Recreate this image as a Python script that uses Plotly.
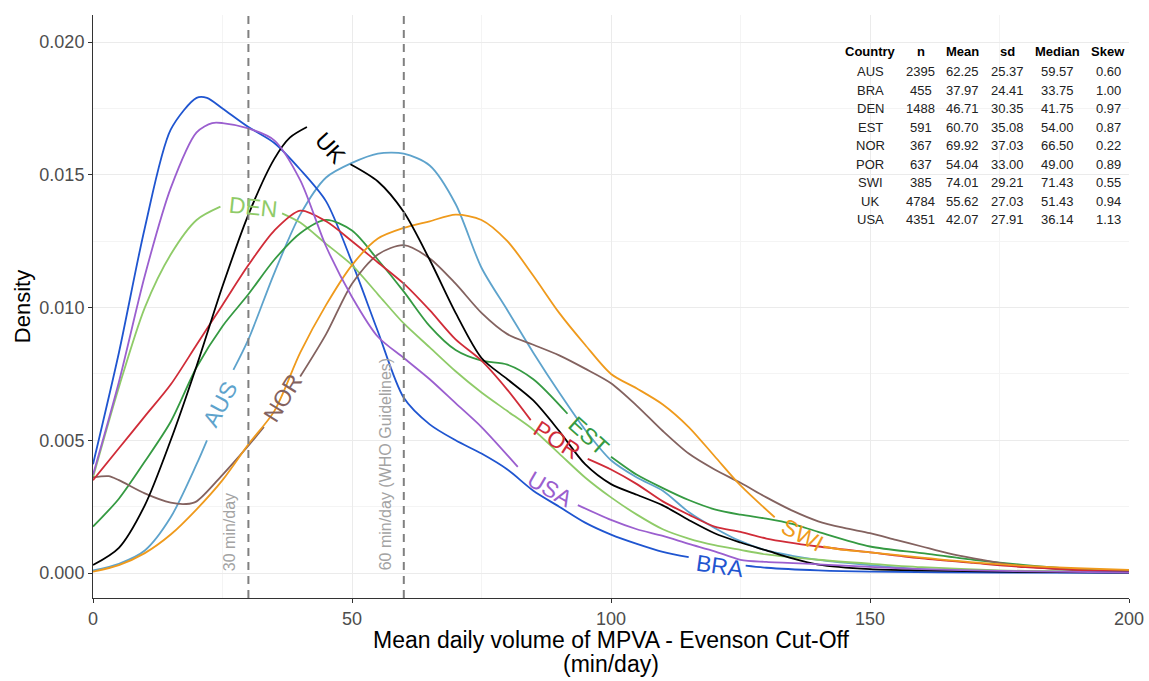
import plotly.graph_objects as go

# Kernel density estimates of MPVA (min/day) per country; density values x 1e-3
AUS_x = [0, 5, 10, 15, 20, 22, 27.1, 30, 35, 40, 45, 50, 55, 60, 65, 70, 75, 80, 85, 90, 95,
         100, 105, 110, 115, 120, 125, 130, 135, 140, 150, 160, 175, 200]
AUS_y = [0.1, 0.35, 0.85, 2.1, 4.1, 5.0, 7.65, 8.8, 11.3, 13.5, 14.9, 15.45, 15.8, 15.8, 15.35,
         13.9, 11.5, 9.9, 8.3, 6.8, 5.4, 4.25, 3.6, 3.1, 2.3, 1.7, 1.2, 0.85, 0.65, 0.5, 0.3,
         0.15, 0.08, 0.02]

BRA_x = [0, 5, 10, 15, 20, 22, 25, 30, 35, 40, 45, 50, 55, 60, 65, 70, 75, 80, 85, 90, 95,
         100, 105, 110, 115, 126, 130, 140, 150, 175, 200]
BRA_y = [4.1, 8.3, 13.0, 16.7, 17.9, 17.9, 17.5, 16.8, 16.2, 15.2, 14.0, 11.7, 9.1, 6.6, 5.6,
         5.0, 4.5, 3.9, 3.1, 2.5, 1.9, 1.45, 1.1, 0.8, 0.6, 0.28, 0.2, 0.1, 0.05, 0.02, 0.01]

DEN_x = [0, 5, 10, 15, 20, 24.6, 36.5, 40, 45, 50, 55, 60, 65, 70, 75, 80, 85, 90, 95, 100,
         105, 110, 115, 120, 125, 130, 140, 150, 160, 175, 200]
DEN_y = [3.6, 7.0, 10.0, 12.0, 13.3, 13.8, 13.55, 13.2, 12.4, 11.6, 10.5, 9.4, 8.5, 7.6, 6.8,
         6.1, 5.4, 4.5, 3.6, 2.85, 2.2, 1.65, 1.3, 1.05, 0.87, 0.7, 0.5, 0.35, 0.22, 0.1, 0.03]

EST_x = [0, 5, 10, 15, 20, 25, 30, 35, 40, 45, 50, 55, 60, 65, 70, 75, 80, 85, 91.6, 100, 105,
         110, 115, 120, 125, 130, 135, 140, 150, 160, 170, 180, 190, 200]
EST_y = [1.75, 2.8, 4.2, 5.7, 7.75, 9.3, 10.5, 11.8, 12.8, 13.3, 12.9, 11.8, 10.6, 9.3, 8.4,
         8.0, 7.85, 7.3, 6.0, 4.38, 3.7, 3.2, 2.75, 2.4, 2.2, 2.05, 1.85, 1.55, 1.0, 0.75, 0.5,
         0.3, 0.15, 0.07]

NOR_x = [0, 3, 5, 10, 15, 18, 20, 25, 30, 33, 40, 45, 50, 55, 60, 65, 70, 75, 80, 85, 90, 95,
         100, 105, 110, 115, 120, 125, 130, 135, 140, 145, 150, 155, 160, 165, 170, 175, 180,
         190, 200]
NOR_y = [3.6, 3.65, 3.5, 3.0, 2.65, 2.6, 2.7, 3.7, 4.8, 5.5, 7.4, 9.0, 10.9, 12.0, 12.35, 11.85,
         10.9, 9.8, 9.0, 8.6, 8.2, 7.7, 7.15, 6.3, 5.35, 4.5, 3.9, 3.4, 2.85, 2.35, 1.95, 1.7,
         1.5, 1.25, 1.0, 0.75, 0.55, 0.38, 0.25, 0.1, 0.05]

POR_x = [0, 5, 10, 15, 20, 25, 30, 35, 40, 45, 50, 55, 60, 65, 70, 75, 80, 84.5, 95.5, 100,
         105, 110, 115, 120, 125, 130, 140, 150, 160, 170, 180, 190, 200]
POR_y = [3.5, 4.7, 5.9, 7.1, 8.6, 10.1, 11.6, 12.9, 13.65, 13.25, 12.5, 11.7, 10.9, 9.9, 8.8,
         8.0, 6.9, 5.76, 4.3, 3.9, 3.35, 2.7, 2.2, 1.75, 1.55, 1.3, 1.0, 0.78, 0.55, 0.38,
         0.22, 0.12, 0.06]

SWI_x = [0, 5, 10, 15, 20, 25, 30, 35, 40, 45, 50, 55, 60, 65, 70, 75, 80, 85, 90, 95, 100,
         105, 110, 115, 120, 125, 131.6, 141, 145, 150, 160, 170, 180, 190, 200]
SWI_y = [0.05, 0.3, 0.75, 1.45, 2.4, 3.5, 4.85, 6.1, 8.3, 10.1, 11.6, 12.6, 13.0, 13.25, 13.5,
         13.3, 12.5, 11.2, 9.8, 8.6, 7.5, 6.95, 6.35, 5.5, 4.4, 3.3, 2.1, 1.0, 0.87, 0.78, 0.58,
         0.4, 0.27, 0.18, 0.12]

UK_x = [0, 5, 10, 15, 20, 25, 30, 35, 38, 41.3, 49.7, 55, 60, 65, 70, 75, 80, 85, 90, 95, 100,
        105, 110, 115, 120, 125, 130, 135, 140, 150, 160, 175, 200]
UK_y = [0.3, 0.95, 2.55, 5.0, 7.8, 10.8, 13.5, 15.6, 16.4, 16.8, 15.4, 14.75, 13.6, 11.8, 9.8,
        8.1, 7.3, 6.5, 5.35, 4.1, 3.35, 2.95, 2.55, 2.0, 1.5, 1.15, 0.85, 0.55, 0.32, 0.15,
        0.1, 0.05, 0.02]

USA_x = [0, 5, 10, 15, 20, 23, 25, 30, 35, 40, 45, 50, 55, 60, 65, 70, 75, 82, 93.6, 100, 105,
         110, 115, 120, 125, 130, 140, 150, 160, 170, 185, 200]
USA_y = [3.7, 7.2, 11.2, 14.5, 16.6, 16.95, 16.95, 16.75, 16.3, 14.8, 12.3, 10.4, 8.9, 8.1, 7.3,
         6.4, 5.5, 4.0, 2.56, 2.0, 1.65, 1.4, 1.1, 0.82, 0.5, 0.42, 0.33, 0.23, 0.15, 0.1, 0.05,
         0.02]

# Summary statistics table
table_header = ["Country", "n", "Mean", "sd", "Median", "Skew"]
table_country = ["AUS", "BRA", "DEN", "EST", "NOR", "POR", "SWI", "UK", "USA"]
table_n = [2395, 455, 1488, 591, 367, 637, 385, 4784, 4351]
table_mean = [62.25, 37.97, 46.71, 60.70, 69.92, 54.04, 74.01, 55.62, 42.07]
table_sd = [25.37, 24.41, 30.35, 35.08, 37.03, 33.00, 29.21, 27.03, 27.91]
table_median = [59.57, 33.75, 41.75, 54.00, 66.50, 49.00, 71.43, 51.43, 36.14]
table_skew = [0.60, 1.00, 0.97, 0.87, 0.22, 0.89, 0.55, 0.94, 1.13]

# Guideline reference lines (min/day)
guide_x = [30, 60]
guide_text = ["30 min/day", "60 min/day (WHO Guidelines)"]

SCALE = 1e-3
FONT = "Liberation Sans, Arial, sans-serif"

series = {
    "AUS": (AUS_x, AUS_y), "BRA": (BRA_x, BRA_y), "DEN": (DEN_x, DEN_y),
    "EST": (EST_x, EST_y), "NOR": (NOR_x, NOR_y), "POR": (POR_x, POR_y),
    "SWI": (SWI_x, SWI_y), "UK": (UK_x, UK_y), "USA": (USA_x, USA_y),
}
colors = {
    "AUS": "#5ea3cc", "BRA": "#1f55d0", "DEN": "#8fcb68", "EST": "#359a42",
    "NOR": "#83625f", "POR": "#d02c38", "SWI": "#ef9a1c", "UK": "#000000",
    "USA": "#9b5fcf",
}
# in-line label placement: gap along curve, label centre, rotation
labels = {
    "AUS": (22, 27.1, 24.6, 6.35, -62),
    "BRA": (115, 126, 121.0, 0.26, 8),
    "DEN": (24.6, 36.5, 31.0, 13.8, 6),
    "EST": (91.6, 100, 95.7, 5.15, 42),
    "NOR": (33, 40, 36.6, 6.6, -58),
    "POR": (84.5, 95.5, 89.6, 5.0, 33),
    "SWI": (131.6, 141, 137.0, 1.45, 28),
    "UK": (41.3, 49.7, 45.8, 16.0, 48),
    "USA": (82, 93.6, 88.2, 3.15, 30),
}

fig = go.Figure()

for name, (xs, ys) in series.items():
    lo, hi = labels[name][0], labels[name][1]
    px, py = [], []
    prev = None
    for xv, yv in zip(xs, ys):
        if lo < xv < hi:
            continue
        if prev is not None and prev <= lo and xv >= hi:
            px.append(None)
            py.append(None)
        px.append(xv)
        py.append(yv * SCALE)
        prev = xv
    fig.add_trace(go.Scatter(
        x=px, y=py, mode="lines", name=name, connectgaps=False,
        line=dict(color=colors[name], width=1.8, shape="spline", smoothing=0.8),
        showlegend=False, hoverinfo="skip",
    ))

annotations = []
for name, (lo, hi, lx, ly, ang) in labels.items():
    annotations.append(dict(
        x=lx, y=ly * SCALE, xref="x", yref="y", text=name, showarrow=False,
        textangle=ang, xanchor="center", yanchor="middle",
        font=dict(family=FONT, size=23, color=colors[name]),
    ))

shapes = []
for gx in guide_x:
    shapes.append(dict(
        type="line", xref="x", yref="paper", x0=gx, x1=gx, y0=0, y1=1,
        line=dict(color="#808080", width=2, dash="8px,6px"), layer="above",
    ))
# rotated guideline captions, centred on their text extent
for gx, gt, cy in zip(guide_x, guide_text, [1.53, 4.1]):
    annotations.append(dict(
        x=gx - 3.6, y=cy * SCALE, xref="x", yref="y", text=gt, showarrow=False,
        textangle=-90, xanchor="center", yanchor="middle",
        font=dict(family=FONT, size=16, color="#a3a3a3"),
    ))

# summary table, columns centred
col_x = [150.0, 159.8, 167.8, 176.5, 186.1, 196.0]
header_y = 19.66
row_step = 0.697
for cx, h in zip(col_x, table_header):
    annotations.append(dict(
        x=cx, y=header_y * SCALE, xref="x", yref="y", text="<b>%s</b>" % h,
        showarrow=False, xanchor="center", yanchor="middle",
        font=dict(family=FONT, size=13, color="#000000"),
    ))
for i, c in enumerate(table_country):
    row = [c, "%d" % table_n[i], "%.2f" % table_mean[i], "%.2f" % table_sd[i],
           "%.2f" % table_median[i], "%.2f" % table_skew[i]]
    ry = (header_y - 0.77 - row_step * i) * SCALE
    for cx, t in zip(col_x, row):
        annotations.append(dict(
            x=cx, y=ry, xref="x", yref="y", text=t, showarrow=False,
            xanchor="center", yanchor="middle",
            font=dict(family=FONT, size=13, color="#222222"),
        ))

# two-line x-axis title
annotations.append(dict(
    x=0.5, y=-0.072, xref="paper", yref="paper", showarrow=False,
    text="Mean daily volume of MPVA - Evenson Cut-Off", xanchor="center", yanchor="middle",
    font=dict(family=FONT, size=23, color="#000000"),
))
annotations.append(dict(
    x=0.5, y=-0.114, xref="paper", yref="paper", showarrow=False,
    text="(min/day)", xanchor="center", yanchor="middle",
    font=dict(family=FONT, size=23, color="#000000"),
))

fig.update_layout(
    width=1149, height=681,
    margin=dict(l=93, r=20, t=15, b=83, autoexpand=False),
    paper_bgcolor="white", plot_bgcolor="white",
    font=dict(family=FONT),
    shapes=shapes, annotations=annotations,
    xaxis=dict(
        range=[0, 200], tickvals=[0, 50, 100, 150, 200], automargin=False,
        showgrid=True, gridcolor="#ebebeb", gridwidth=1,
        minor=dict(tickvals=[25, 75, 125, 175], showgrid=True, gridcolor="#f4f4f4",
                   gridwidth=1),
        showline=True, linecolor="#333333", linewidth=1,
        ticks="outside", ticklen=4, tickcolor="#333333",
        tickfont=dict(family=FONT, size=18, color="#4d4d4d"),
        zeroline=False,
    ),
    yaxis=dict(
        range=[-0.00094, 0.02102], automargin=False,
        tickvals=[0, 0.005, 0.010, 0.015, 0.020],
        ticktext=["0.000", "0.005", "0.010", "0.015", "0.020"],
        showgrid=True, gridcolor="#ebebeb", gridwidth=1,
        minor=dict(tickvals=[0.0025, 0.0075, 0.0125, 0.0175], showgrid=True,
                   gridcolor="#f4f4f4", gridwidth=1),
        showline=True, linecolor="#333333", linewidth=1,
        ticks="outside", ticklen=4, tickcolor="#333333",
        tickfont=dict(family=FONT, size=18, color="#4d4d4d"),
        zeroline=False,
        title=dict(text="Density", font=dict(family=FONT, size=22, color="#000000"),
                   standoff=2),
    ),
)

fig.write_html("out.html")
